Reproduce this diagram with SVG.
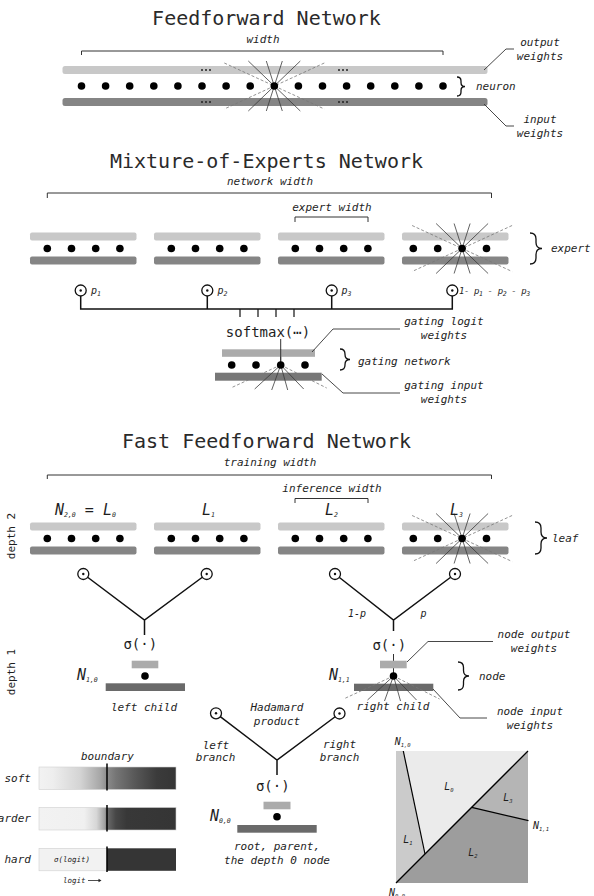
<svg xmlns="http://www.w3.org/2000/svg" width="594" height="896" viewBox="0 0 594 896">
<defs>
<style>
text{font-family:"DejaVu Sans Mono","Liberation Mono",monospace;fill:#1e1e1e}
.title{font-size:20px;text-anchor:middle;fill:#2a2a2a}
.lab{font-size:11px;font-style:italic}
.m{text-anchor:middle}
.e{text-anchor:end}
.sym{font-size:15px;font-style:italic}
.sig{font-size:14px;text-anchor:middle}
.sub{font-size:6.5px}
.pl{font-size:10px;font-style:italic}
.sq{font-size:10px;font-style:italic}
.sqs{font-size:5.5px}
.bl{fill:#c8c8c8}
.bd{fill:#858585}
.nl{fill:#ababab}
.nd{fill:#6a6a6a}
.ss{stroke:#3a3a3a;stroke-width:.8}
.sd{stroke:#777;stroke-width:.8;stroke-dasharray:3 2}
.brk{fill:none;stroke:#333;stroke-width:1}
.lead{fill:none;stroke:#333;stroke-width:.9}
.brace{fill:none;stroke:#111;stroke-width:1.3}
.conn{fill:none;stroke:#111;stroke-width:1.5}
.gate{fill:#fff;stroke:#111;stroke-width:1.3}
.gb{stroke:#cfcfcf;stroke-width:.6}
.bnd{stroke:#000;stroke-width:1.5}
</style>
<g id="star">
<line class="sd" x1="-50" y1="-23" x2="50" y2="23"/>
<line class="sd" x1="50" y1="-23" x2="-50" y2="23"/>
<line class="ss" x1="-26" y1="-25" x2="26" y2="25"/>
<line class="ss" x1="-8" y1="-25" x2="8" y2="25"/>
<line class="ss" x1="8" y1="-25" x2="-8" y2="25"/>
<line class="ss" x1="26" y1="-25" x2="-26" y2="25"/>
<circle r="3.8" fill="#000"/>
</g>
<g id="half">
<line class="sd" x1="0" y1="0" x2="-50" y2="23"/>
<line class="sd" x1="0" y1="0" x2="46" y2="23"/>
<line class="ss" x1="0" y1="0" x2="-26" y2="24"/>
<line class="ss" x1="0" y1="0" x2="-9" y2="25"/>
<line class="ss" x1="0" y1="0" x2="7" y2="25"/>
<line class="ss" x1="0" y1="0" x2="23" y2="24"/>
<circle r="3.8" fill="#000"/>
</g>
<g id="odot"><circle class="gate" r="5.5"/><circle r="1.2" fill="#111"/></g>
<linearGradient id="gsoft" x1="0" x2="1" y1="0" y2="0">
<stop offset="0" stop-color="#f2f2f2"/><stop offset=".1" stop-color="#eeeeee"/><stop offset=".3" stop-color="#d4d4d4"/><stop offset=".45" stop-color="#a6a6a6"/><stop offset=".5" stop-color="#8a8a8a"/><stop offset=".56" stop-color="#767676"/><stop offset=".7" stop-color="#585858"/><stop offset=".86" stop-color="#3b3b3b"/><stop offset="1" stop-color="#353535"/>
</linearGradient>
<linearGradient id="ghard" x1="0" x2="1" y1="0" y2="0">
<stop offset="0" stop-color="#f2f2f2"/><stop offset=".33" stop-color="#f0f0f0"/><stop offset=".42" stop-color="#d6d6d6"/><stop offset=".48" stop-color="#a0a0a0"/><stop offset=".5" stop-color="#6a6a6a"/><stop offset=".56" stop-color="#474747"/><stop offset=".64" stop-color="#383838"/><stop offset="1" stop-color="#353535"/>
</linearGradient>
</defs>
<rect width="594" height="896" fill="#fff"/>

<g id="connectors">
<path class="conn" d="M80.7,290.5V309H452.3V290.5M207.3,290.5V309M331.7,290.5V309"/>
<path class="conn" d="M240,309V317M258,309V317M276,309V317M294,309V317" style="stroke-width:1.2"/>
<line x1="280.7" y1="339" x2="280.7" y2="365" stroke="#333" stroke-width="1"/>
<path class="conn" d="M83.3,574L144.5,620L206.7,574M144.5,620V635"/>
<path class="conn" d="M335,574L393.5,620L455,574M393.5,620V631"/>
<line x1="393.5" y1="654" x2="393.5" y2="676" stroke="#333" stroke-width="1"/>
<path class="conn" d="M216,713.3L277,760L339.5,713.5M277,760V775"/>
</g>

<g id="ff-network">
<text class="title" x="266.5" y="25">Feedforward Network</text>
<text class="lab m" x="263" y="43">width</text>
<path class="brk" d="M81.5,55V51H443V55"/>
<rect class="bl" x="62.5" y="66" width="425" height="8" rx="2.5"/>
<rect class="bd" x="62.5" y="98" width="425" height="8" rx="2.5"/>
<g fill="#222"><circle cx="202" cy="70" r="1"/><circle cx="206" cy="70" r="1"/><circle cx="210" cy="70" r="1"/><circle cx="339" cy="70" r="1"/><circle cx="343" cy="70" r="1"/><circle cx="347" cy="70" r="1"/><circle cx="202" cy="102" r="1"/><circle cx="206" cy="102" r="1"/><circle cx="210" cy="102" r="1"/><circle cx="339" cy="102" r="1"/><circle cx="343" cy="102" r="1"/><circle cx="347" cy="102" r="1"/></g>
<use href="#star" x="274.3" y="86"/>
<g fill="#000"><circle cx="81.5" cy="86" r="3.8"/><circle cx="105.6" cy="86" r="3.8"/><circle cx="129.7" cy="86" r="3.8"/><circle cx="153.8" cy="86" r="3.8"/><circle cx="177.9" cy="86" r="3.8"/><circle cx="202" cy="86" r="3.8"/><circle cx="226.1" cy="86" r="3.8"/><circle cx="250.2" cy="86" r="3.8"/><circle cx="298.4" cy="86" r="3.8"/><circle cx="322.5" cy="86" r="3.8"/><circle cx="346.6" cy="86" r="3.8"/><circle cx="370.7" cy="86" r="3.8"/><circle cx="394.8" cy="86" r="3.8"/><circle cx="418.9" cy="86" r="3.8"/><circle cx="443" cy="86" r="3.8"/></g>
<path class="brace" d="M457,77 Q461,77 461,81 L461,82.5 Q461,86.5 465,86.5 Q461,86.5 461,90.5 L461,92 Q461,96 457,96"/>
<text class="lab" x="476" y="90">neuron</text>
<path class="lead" d="M484,70L506,49H514"/>
<text class="lab m" x="540" y="46">output</text>
<text class="lab m" x="540" y="60">weights</text>
<path class="lead" d="M484,104L506,126H514"/>
<text class="lab m" x="540" y="123">input</text>
<text class="lab m" x="540" y="137">weights</text>
</g>

<g id="moe-network">
<text class="title" x="266.5" y="168">Mixture-of-Experts Network</text>
<text class="lab m" x="270" y="185">network width</text>
<path class="brk" d="M47.3,198V193H491.5V198"/>
<text class="lab m" x="332" y="211">expert width</text>
<path class="brk" d="M295,222V217H368V222"/>
</g>
<g id="expert-1">
<rect class="bl" x="30" y="232.5" width="106.5" height="8" rx="2"/>
<rect class="bd" x="30" y="256.5" width="106.5" height="8" rx="2"/>
<g fill="#000"><circle cx="47.3" cy="248.5" r="3.8"/><circle cx="71.5" cy="248.5" r="3.8"/><circle cx="95.7" cy="248.5" r="3.8"/><circle cx="119.9" cy="248.5" r="3.8"/></g>
</g>
<g id="expert-2">
<rect class="bl" x="154" y="232.5" width="106.5" height="8" rx="2"/>
<rect class="bd" x="154" y="256.5" width="106.5" height="8" rx="2"/>
<g fill="#000"><circle cx="171.3" cy="248.5" r="3.8"/><circle cx="195.5" cy="248.5" r="3.8"/><circle cx="219.7" cy="248.5" r="3.8"/><circle cx="243.9" cy="248.5" r="3.8"/></g>
</g>
<g id="expert-3">
<rect class="bl" x="278" y="232.5" width="106.5" height="8" rx="2"/>
<rect class="bd" x="278" y="256.5" width="106.5" height="8" rx="2"/>
<g fill="#000"><circle cx="295.3" cy="248.5" r="3.8"/><circle cx="319.5" cy="248.5" r="3.8"/><circle cx="343.7" cy="248.5" r="3.8"/><circle cx="367.9" cy="248.5" r="3.8"/></g>
</g>
<g id="expert-4">
<rect class="bl" x="402" y="232.5" width="106.5" height="8" rx="2"/>
<rect class="bd" x="402" y="256.5" width="106.5" height="8" rx="2"/>
<use href="#star" x="462.1" y="248.5"/>
<g fill="#000"><circle cx="413.3" cy="248.5" r="3.8"/><circle cx="437.7" cy="248.5" r="3.8"/><circle cx="486.5" cy="248.5" r="3.8"/></g>
<path class="brace" d="M530,233 Q536,233 536,239 L536,242.5 Q536,248.5 542,248.5 Q536,248.5 536,254.5 L536,258 Q536,264 530,264"/>
<text class="lab" x="551" y="252">expert</text>
</g>
<g id="gates">
<use href="#odot" x="80.7" y="290.5"/>
<use href="#odot" x="207.3" y="290.5"/>
<use href="#odot" x="331.7" y="290.5"/>
<use href="#odot" x="452.3" y="290.5"/>
<text class="pl" x="91" y="294">p<tspan class="sub" dy="1.5">1</tspan></text>
<text class="pl" x="217.5" y="294">p<tspan class="sub" dy="1.5">2</tspan></text>
<text class="pl" x="341.5" y="294">p<tspan class="sub" dy="1.5">3</tspan></text>
<text class="pl" x="459" y="294" style="font-size:9px;letter-spacing:-.4px">1- p<tspan class="sub" dy="1.5">1</tspan><tspan dy="-1.5"> - p</tspan><tspan class="sub" dy="1.5">2</tspan><tspan dy="-1.5"> - p</tspan><tspan class="sub" dy="1.5">3</tspan></text>
</g>
<g id="gating-network">
<text class="sig" x="268" y="337">softmax(⋯)</text>
<rect class="nl" x="222" y="349.3" width="93" height="7.5"/>
<rect fill="#777" x="215" y="372.7" width="106.7" height="8"/>
<line x1="280.7" y1="349" x2="280.7" y2="365" stroke="#333" stroke-width="1"/>
<use href="#half" x="280.7" y="365"/>
<g fill="#000"><circle cx="231.7" cy="365" r="3.8"/><circle cx="256" cy="365" r="3.8"/><circle cx="305" cy="365" r="3.8"/></g>
<path class="brace" d="M340,349 Q345,349 345,354 L345,354.5 Q345,359.5 350,359.5 Q345,359.5 345,364.5 L345,365 Q345,370 340,370"/>
<text class="lab" x="358" y="365">gating network</text>
<path class="lead" d="M312,352L333,329H400"/>
<text class="lab m" x="444" y="325">gating logit</text>
<text class="lab m" x="444" y="339">weights</text>
<path class="lead" d="M322,374L343,393H400"/>
<text class="lab m" x="444" y="389">gating input</text>
<text class="lab m" x="444" y="403">weights</text>
</g>

<g id="fff-network">
<text class="title" x="266.5" y="448">Fast Feedforward Network</text>
<text class="lab m" x="270" y="466">training width</text>
<path class="brk" d="M47.3,479V475H491.5V479"/>
<text class="lab m" x="332" y="492">inference width</text>
<path class="brk" d="M295,503V498.5H368V503"/>
<text transform="translate(15,536) rotate(-90)" class="m" style="font-size:11px">depth 2</text>
<text transform="translate(15,672) rotate(-90)" class="m" style="font-size:11px">depth 1</text>
</g>
<g id="leaf-0">
<text class="sym" x="55" y="515">N<tspan class="sub" dy="2">2,0</tspan><tspan dy="-2"> = </tspan>L<tspan class="sub" dy="2">0</tspan></text>
<rect class="bl" x="30" y="522.5" width="106.5" height="8" rx="2"/>
<rect class="bd" x="30" y="546.5" width="106.5" height="8" rx="2"/>
<g fill="#000"><circle cx="47.3" cy="538.5" r="3.8"/><circle cx="71.5" cy="538.5" r="3.8"/><circle cx="95.7" cy="538.5" r="3.8"/><circle cx="119.9" cy="538.5" r="3.8"/></g>
</g>
<g id="leaf-1">
<text class="sym" x="202" y="515">L<tspan class="sub" dy="2">1</tspan></text>
<rect class="bl" x="154" y="522.5" width="106.5" height="8" rx="2"/>
<rect class="bd" x="154" y="546.5" width="106.5" height="8" rx="2"/>
<g fill="#000"><circle cx="171.3" cy="538.5" r="3.8"/><circle cx="195.5" cy="538.5" r="3.8"/><circle cx="219.7" cy="538.5" r="3.8"/><circle cx="243.9" cy="538.5" r="3.8"/></g>
</g>
<g id="leaf-2">
<text class="sym" x="325" y="515">L<tspan class="sub" dy="2">2</tspan></text>
<rect class="bl" x="278" y="522.5" width="106.5" height="8" rx="2"/>
<rect class="bd" x="278" y="546.5" width="106.5" height="8" rx="2"/>
<g fill="#000"><circle cx="295.3" cy="538.5" r="3.8"/><circle cx="319.5" cy="538.5" r="3.8"/><circle cx="343.7" cy="538.5" r="3.8"/><circle cx="367.9" cy="538.5" r="3.8"/></g>
</g>
<g id="leaf-3">
<rect class="bl" x="402" y="522.5" width="106.5" height="8" rx="2"/>
<rect class="bd" x="402" y="546.5" width="106.5" height="8" rx="2"/>
<use href="#star" x="462.1" y="538.5"/>
<g fill="#000"><circle cx="413.3" cy="538.5" r="3.8"/><circle cx="437.7" cy="538.5" r="3.8"/><circle cx="486.5" cy="538.5" r="3.8"/></g>
<text class="sym" x="450" y="515">L<tspan class="sub" dy="2">3</tspan></text>
<path class="brace" d="M535,522 Q541,522 541,528 L541,532 Q541,538 547,538 Q541,538 541,544 L541,548 Q541,554 535,554"/>
<text class="lab" x="552" y="542">leaf</text>
</g>
<g id="leaf-gates">
<use href="#odot" x="83.3" y="574"/>
<use href="#odot" x="206.7" y="574"/>
<use href="#odot" x="335" y="574"/>
<use href="#odot" x="455" y="574"/>
<text class="pl m" x="357" y="617">1-p</text>
<text class="pl m" x="423.5" y="617">p</text>
</g>
<g id="node-1-0">
<text class="sig" x="140.3" y="649">σ(·)</text>
<rect class="nl" x="131.7" y="660.7" width="26.6" height="7.6"/>
<circle cx="145" cy="676" r="3.8" fill="#000"/>
<rect class="nd" x="105.7" y="683.3" width="79.3" height="7.7"/>
<text class="sym" x="77" y="680">N<tspan class="sub" dy="2">1,0</tspan></text>
<text class="lab m" x="144" y="711">left child</text>
</g>
<g id="node-1-1">
<text class="sig" x="389.3" y="650">σ(·)</text>
<rect class="nl" x="380" y="660.7" width="26.7" height="7.6"/>
<rect class="nd" x="354" y="683.7" width="79.3" height="7.3"/>
<use href="#half" x="393.5" y="676"/>
<text class="sym" x="329" y="680">N<tspan class="sub" dy="2">1,1</tspan></text>
<text class="lab m" x="393" y="710">right child</text>
<path class="brace" d="M458,662 Q463.5,662 463.5,667.5 L463.5,670.5 Q463.5,676 469,676 Q463.5,676 463.5,681.5 L463.5,684.5 Q463.5,690 458,690"/>
<text class="lab" x="479" y="680">node</text>
<path class="lead" d="M407,662L428,641.5H493"/>
<text class="lab m" x="534" y="638">node output</text>
<text class="lab m" x="534" y="652">weights</text>
<path class="lead" d="M433,689L460,718H487"/>
<text class="lab m" x="530" y="715">node input</text>
<text class="lab m" x="530" y="729">weights</text>
</g>
<g id="node-0-0">
<use href="#odot" x="216" y="713.3"/>
<use href="#odot" x="339.5" y="713.5"/>
<text class="lab m" x="277" y="710.5">Hadamard</text>
<text class="lab m" x="277" y="724.5">product</text>
<text class="lab m" x="216" y="749">left</text>
<text class="lab m" x="215.5" y="761">branch</text>
<text class="lab m" x="339.5" y="748">right</text>
<text class="lab m" x="339.5" y="761">branch</text>
<text class="sig" x="272.8" y="791">σ(·)</text>
<rect class="nl" x="263.5" y="801.7" width="27" height="7.6"/>
<circle cx="277" cy="816.7" r="3.8" fill="#000"/>
<rect class="nd" x="237.3" y="825" width="79.4" height="7.7"/>
<text class="sym" x="210" y="821">N<tspan class="sub" dy="2">0,0</tspan></text>
<text class="lab m" x="277" y="850">root, parent,</text>
<text class="lab m" x="277" y="864">the depth 0 node</text>
</g>

<g id="sharpness-legend">
<text class="lab m" x="107.5" y="759.5">boundary</text>
<rect x="39" y="767" width="137" height="22.5" fill="url(#gsoft)" class="gb"/>
<rect x="39" y="807.5" width="137" height="22.5" fill="url(#ghard)" class="gb"/>
<rect x="39" y="848.3" width="68" height="22.5" fill="#f2f2f2" class="gb"/>
<rect x="107" y="848.3" width="69" height="22.5" fill="#353535"/>
<line class="bnd" x1="107" y1="763.5" x2="107" y2="790.5"/>
<line class="bnd" x1="107" y1="805" x2="107" y2="831.5"/>
<line class="bnd" x1="107" y1="846.5" x2="107" y2="872"/>
<text class="lab e" x="31" y="782">soft</text>
<text class="lab e" x="31" y="822">harder</text>
<text class="lab e" x="31" y="863">hard</text>
<text class="m" x="72" y="862" style="font-size:7.5px;font-style:italic">σ(logit)</text>
<text x="63" y="883" style="font-size:7.5px;font-style:italic">logit</text>
<line x1="88" y1="880.5" x2="99" y2="880.5" stroke="#222" stroke-width=".8"/>
<polygon points="98.5,878.8 101.5,880.5 98.5,882.2" fill="#222"/>
</g>

<g id="partition">
<rect x="396" y="751" width="132" height="132" fill="#ebebeb"/>
<polygon points="396,751 403.3,751 425,854 396,883" fill="#cbcbcb"/>
<polygon points="396,883 528,751 528,883" fill="#9d9d9d"/>
<polygon points="471.7,807.3 528,751 528,820.7" fill="#b5b5b5"/>
<line x1="396" y1="883" x2="528" y2="751" stroke="#000" stroke-width="1.3"/>
<line x1="403.3" y1="751" x2="425" y2="854" stroke="#000" stroke-width="1.2"/>
<line x1="471.7" y1="807.3" x2="528.5" y2="820.7" stroke="#000" stroke-width="1.2"/>
<text class="sq m" x="402.7" y="745">N<tspan class="sqs" dy="1.5">1,0</tspan></text>
<text class="sq" x="533" y="829">N<tspan class="sqs" dy="1.5">1,1</tspan></text>
<text class="sq m" x="397" y="896">N<tspan class="sqs" dy="1.5">0,0</tspan></text>
<text class="sq m" x="449" y="790">L<tspan class="sqs" dy="1.5">0</tspan></text>
<text class="sq m" x="508" y="801">L<tspan class="sqs" dy="1.5">3</tspan></text>
<text class="sq m" x="408" y="843">L<tspan class="sqs" dy="1.5">1</tspan></text>
<text class="sq m" x="473" y="856">L<tspan class="sqs" dy="1.5">2</tspan></text>
</g>
</svg>
